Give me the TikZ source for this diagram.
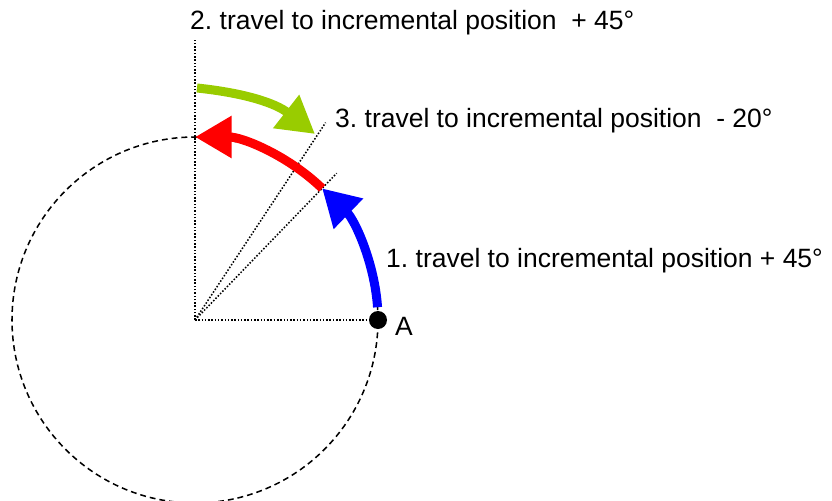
\documentclass[tikz,border=0pt]{standalone}
\usepackage{fontspec}
\setmainfont{Liberation Sans}
\usetikzlibrary{arrows.meta}
\definecolor{stepgreen}{RGB}{153,204,0}

\begin{document}
\frenchspacing
\begin{tikzpicture}[
  every node/.style={font=\fontsize{22.6}{26}\selectfont, inner sep=0pt},
  guide/.style={line width=1.3pt, dash pattern=on 1.3pt off 1.5pt},
  move/.style={line width=0.27cm, -{Triangle[length=1.1cm,width=1.2cm]}},
]
\useasboundingbox (-5.85,-5.4) rectangle (19.11,9.6);
\coordinate (C) at (0,0);
\coordinate (A) at (0:5.49);
\draw[line width=1.3pt, dash pattern=on 5pt off 3.4pt] (C) circle (5.49);
% guide lines
\draw[guide] (C) -- (A);
\draw[guide] (C) -- (0,8.4);
\draw[guide] (C) -- (46:6.12);
\draw[guide] (C) -- (56.5:7.1);
% moves
\draw[move, blue] (4:5.49) arc[start angle=4, end angle=46, radius=5.49];
\draw[move, red] (46:5.49) arc[start angle=46, end angle=90, radius=5.49];
\draw[move, stepgreen] (0.06,6.96) to[out=-6, in=142] (3.6,5.58);
\fill (A) circle (0.27);
\node[anchor=base west] (labelA) at (6.0,-0.45) {A};
\node[anchor=base west] (step1) at (5.73,1.59) {1. travel to incremental position + 45°};
\node[anchor=base west] (step2) at (-0.15,8.715) {2. travel to incremental position\ \ + 45°};
\node[anchor=base west] (step3) at (4.2,5.79) {3. travel to incremental position\ \ - 20°};
\end{tikzpicture}
\end{document}
